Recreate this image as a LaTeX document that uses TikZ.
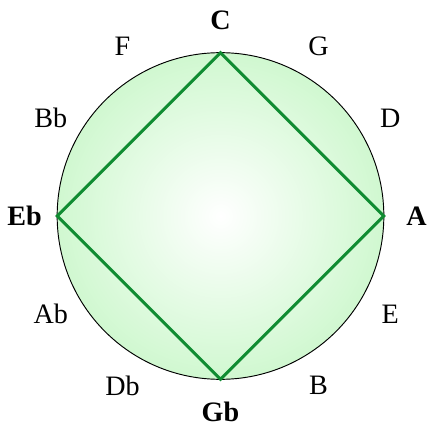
\documentclass[tikz,border=0pt]{standalone}
\usepackage{fontspec}
\setmainfont{Liberation Serif}
\definecolor{squaregreen}{RGB}{16,140,50}
\definecolor{discgreen}{RGB}{208,248,208}
\tikzset{
  note/.style={font=\fontsize{24}{28}\selectfont},
  keynote/.style={font=\fontsize{24}{28}\selectfont\bfseries}
}
\begin{document}
\begin{tikzpicture}
  \useasboundingbox (-6.615,-6.51) rectangle (6.345,6.48);
  \shade[inner color=white,outer color=discgreen] (0,0) circle (4.9);
  \draw[line width=0.8pt] (0,0) circle (4.9);
  % notes on the circle of fifths
  \foreach \a/\nm/\sty in {90/C/keynote,60/G/note,30/D/note,0/A/keynote,-30/E/note,-60/B/note,-90/Gb/keynote,-120/Db/note,-150/Ab/note,180/Eb/keynote,150/Bb/note,120/F/note} {
    \coordinate (v\nm) at (\a:4.9);
    \node[\sty] (n\nm) at (\a:5.88) {\nm};
  }
  \draw[squaregreen,line width=2.6pt,line join=miter] (vC) -- (vA) -- (vGb) -- (vEb) -- cycle;
\end{tikzpicture}
\end{document}
